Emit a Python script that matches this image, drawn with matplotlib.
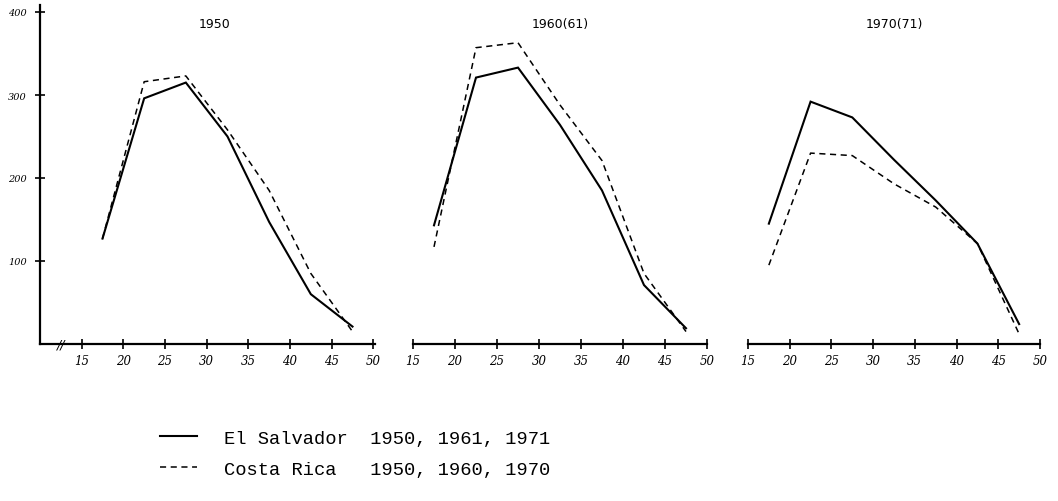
#!/usr/bin/env python3
"""
Age-specific fertility curves, El Salvador vs Costa Rica, three census rounds.
"""

import matplotlib
matplotlib.use("Agg")
import matplotlib.pyplot as plt
from matplotlib import transforms

# Midpoints of the age groups 15-19 ... 45-49
edades = [17.5, 22.5, 27.5, 32.5, 37.5, 42.5, 47.5]

# Rates per 1000 women
el_salvador_1950 = [127, 296, 315, 250, 147, 60, 21]
costa_rica_1950 = [127, 316, 323, 258, 185, 85, 15]

el_salvador_1961 = [143, 321, 333, 264, 185, 71, 19]
costa_rica_1960 = [117, 357, 363, 288, 221, 85, 15]

el_salvador_1971 = [145, 292, 273, 222, 173, 121, 24]
costa_rica_1970 = [95, 230, 227, 193, 165, 121, 12]

titulos = ["1950", "1960(61)", "1970(71)"]
x_ticks = [15, 20, 25, 30, 35, 40, 45, 50]
y_ticks = [100, 200, 300, 400]

legenda = ["El Salvador  1950, 1961, 1971",
           "Costa Rica   1950, 1960, 1970"]

W, H = 1058, 502


def px_box(left, top, right, bottom):
    """Convert a pixel box (top-left origin) into figure fractions."""
    return [left / W, 1 - bottom / H, (right - left) / W, (bottom - top) / H]


def estilo_eixo(ax, primeiro):
    ax.set_ylim(0, 400)
    ax.spines["top"].set_visible(False)
    ax.spines["right"].set_visible(False)
    ax.spines["bottom"].set_linewidth(1.6)
    ax.set_xticks(x_ticks)
    ax.set_xticklabels([str(t) for t in x_ticks], fontsize=8.5,
                       style="italic", family="DejaVu Serif")
    ax.tick_params(axis="x", direction="inout", length=7, width=1.2, pad=4)
    if primeiro:
        ax.spines["left"].set_linewidth(1.6)
        ax.spines["left"].set_bounds(0, 408)
        ax.set_yticks(y_ticks)
        ax.set_yticklabels([str(t) for t in y_ticks], fontsize=7,
                           style="italic", family="DejaVu Serif")
        ax.tick_params(axis="y", direction="inout", length=7, width=1.2, pad=6)
        # axis break marks
        trans = transforms.blended_transform_factory(ax.transData, ax.transAxes)
        ax.text(12.6, 0, "//", transform=trans, ha="center", va="center",
                fontsize=9, style="italic", clip_on=False)
    else:
        ax.spines["left"].set_visible(False)
        ax.set_yticks([])


def main():
    fig = plt.figure(figsize=(W / 100, H / 100), dpi=100)

    caixas = [px_box(40, 13, 375, 345),
              px_box(413, 13, 707, 345),
              px_box(748, 13, 1040, 345)]
    limites = [(10, 50.2), (15, 50), (15, 50)]
    series = [(el_salvador_1950, costa_rica_1950),
              (el_salvador_1961, costa_rica_1960),
              (el_salvador_1971, costa_rica_1970)]

    handles = None
    for i, (caixa, lim, (es, cr), titulo) in enumerate(
            zip(caixas, limites, series, titulos)):
        ax = fig.add_axes(caixa)
        l1, = ax.plot(edades, es, color="black", lw=1.5, solid_joinstyle="miter")
        l2, = ax.plot(edades, cr, color="black", lw=1.1, dashes=(4, 3))
        ax.set_xlim(*lim)
        estilo_eixo(ax, i == 0)
        ax.text(0.52 if i == 0 else 0.5, 0.965, titulo, transform=ax.transAxes,
                ha="center", va="center", fontsize=9, family="DejaVu Sans")
        if handles is None:
            handles = [l1, l2]

    fig.legend(handles, legenda, loc="upper left",
               bbox_to_anchor=(143 / W, 1 - 414 / H), frameon=False,
               prop={"family": "Liberation Mono", "size": 13.5},
               handlelength=2.0, handletextpad=1.4, labelspacing=0.72)

    fig.savefig("out.png", dpi=100)


if __name__ == "__main__":
    main()
